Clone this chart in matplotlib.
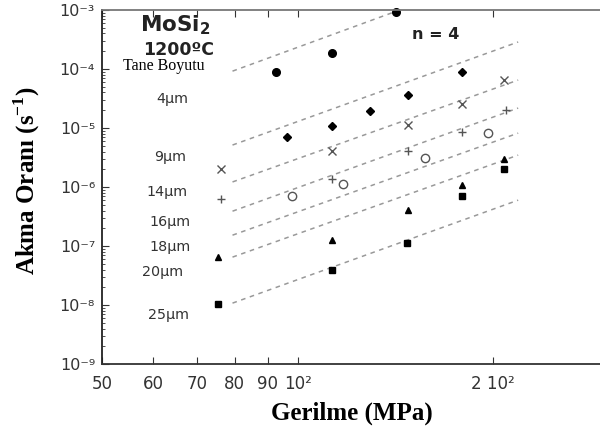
import matplotlib.pyplot as plt
from matplotlib.ticker import FixedLocator, LogLocator, NullFormatter

plt.rcParams['font.family'] = ['DejaVu Sans']
plt.rcParams['mathtext.fontset'] = 'custom'
plt.rcParams['mathtext.rm'] = 'Liberation Serif'
plt.rcParams['mathtext.bf'] = 'Liberation Serif:bold'

# veriler
x_4um = [92.5, 112.8, 141.6]
y_4um = [8.9e-5, 1.87e-4, 9.2e-4]
x_9um = [96.2, 112.8, 129.1, 147.8, 179.1]
y_9um = [7.0e-6, 1.08e-5, 1.94e-5, 3.62e-5, 8.9e-5]
x_14um = [76.3, 112.8, 147.8, 179.1, 208]
y_14um = [2.0e-6, 4.07e-6, 1.12e-5, 2.55e-5, 6.5e-5]
x_16um = [76.3, 112.8, 147.8, 179.1, 209]
y_16um = [6.3e-7, 1.37e-6, 4.07e-6, 8.55e-6, 2.0e-5]
x_18um = [98.2, 117.3, 157, 196.5]
y_18um = [7.0e-7, 1.12e-6, 3.1e-6, 8.2e-6]
x_20um = [75.5, 112.8, 147.8, 179.1, 208]
y_20um = [6.5e-8, 1.26e-7, 4.07e-7, 1.08e-6, 3.0e-6]
x_25um = [75.5, 112.8, 147.3, 179.1, 208]
y_25um = [1.04e-8, 3.9e-8, 1.12e-7, 7.0e-7, 2.0e-6]

# n = 4 kesikli cizgileri (baslangic ve bitis noktalari)
line_x0 = [79.4, 79.4, 79.4, 79.4, 79.4, 79.4, 79.4]
line_x1 = [143.6, 218.5, 218.5, 218.5, 218.5, 218.5, 218.5]
line_y0 = [9.2e-5, 5.15e-6, 1.22e-6, 3.9e-7, 1.53e-7, 6.5e-8, 1.08e-8]
line_y1 = [1.0e-3, 2.87e-4, 6.5e-5, 2.18e-5, 8.2e-6, 3.48e-6, 6.0e-7]

size_labels = ['4µm', '9µm', '14µm', '16µm', '18µm', '20µm', '25µm']
size_label_y = [3.1e-5, 3.2e-6, 8.2e-7, 2.55e-7, 9.6e-8, 3.6e-8, 6.8e-9]
size_label_x = [60.6, 60.2, 58.5, 59.1, 59.1, 57.7, 58.9]

xticks = [50, 60, 70, 80, 90, 100, 200]
xticklabels = ['50', '60', '70', '80', '90', '10²', '2 10²']
yticks = [1e-9, 1e-8, 1e-7, 1e-6, 1e-5, 1e-4, 1e-3]
yticklabels = ['10⁻⁹', '10⁻⁸', '10⁻⁷', '10⁻⁶', '10⁻⁵', '10⁻⁴', '10⁻³']

fig = plt.figure(figsize=(6, 4.34), dpi=100)
ax = fig.add_axes([0.17, 0.161, 0.83, 0.816])
ax.set_xscale('log')
ax.set_yscale('log')
ax.set_xlim(50, 292)
ax.set_ylim(1e-9, 1e-3)

for i in range(len(line_x0)):
    ax.plot([line_x0[i], line_x1[i]], [line_y0[i], line_y1[i]], ls=(0, (3, 3)),
            color='#999999', lw=1.1)

ax.plot(x_4um, y_4um, 'o', color='black', ms=5.5, clip_on=False)
ax.plot(x_9um, y_9um, 'D', color='black', ms=3.8)
ax.plot(x_14um, y_14um, 'x', color='#555555', ms=6, mew=1)
ax.plot(x_16um, y_16um, '+', color='#555555', ms=6, mew=1)
ax.plot(x_18um, y_18um, 'o', mfc='none', mec='#555555', ms=6, mew=1)
ax.plot(x_20um, y_20um, '^', color='black', ms=5)
ax.plot(x_25um, y_25um, 's', color='black', ms=5)

for lab, lx, ly in zip(size_labels, size_label_x, size_label_y):
    ax.text(lx, ly, lab, fontsize=10.3, color='#333333', ha='left', va='center')

ax.text(0.076, 0.958, 'MoSi$_\\mathregular{2}$', transform=ax.transAxes, fontsize=15.5,
        fontweight='bold', color='#222222', ha='left', va='center')
ax.text(0.082, 0.887, '1200ºC', transform=ax.transAxes, fontsize=12.5,
        fontweight='bold', color='#222222', ha='left', va='center')
ax.text(0.042, 0.842, 'Tane Boyutu', transform=ax.transAxes, fontsize=11.5,
        family='Liberation Serif', color='black', ha='left', va='center')
ax.text(0.67, 0.93, 'n = 4', transform=ax.transAxes, fontsize=11.5,
        fontweight='bold', color='#222222', ha='center', va='center')

ax.xaxis.set_major_locator(FixedLocator(xticks))
ax.xaxis.set_minor_locator(FixedLocator([]))
ax.set_xticklabels(xticklabels)
ax.yaxis.set_major_locator(FixedLocator(yticks))
ax.yaxis.set_minor_locator(LogLocator(base=10, subs=range(2, 10)))
ax.yaxis.set_minor_formatter(NullFormatter())
ax.set_yticklabels(yticklabels)

ax.tick_params(axis='both', which='both', direction='in', colors='#333333')
ax.tick_params(axis='x', which='major', length=5, pad=8, labelsize=12, top=True)
ax.tick_params(axis='y', which='major', length=5, pad=5, labelsize=11.5)
ax.tick_params(axis='y', which='minor', length=2.5)

ax.spines['right'].set_visible(False)
ax.spines['top'].set_color('#777777')
ax.spines['left'].set_color('#222222')
ax.spines['bottom'].set_color('#333333')
for s in ['top', 'left', 'bottom']:
    ax.spines[s].set_linewidth(1.3)

fig.text(0.587, 0.048, 'Gerilme (MPa)', family='Liberation Serif', fontweight='bold',
         fontsize=18, ha='center', va='center')
fig.text(0.045, 0.583, 'Akma Oranı (s$^{\\mathbf{-1}}$)', family='Liberation Serif',
         fontweight='bold', fontsize=18, rotation=90, ha='center', va='center')

fig.savefig('out.png', dpi=100)
